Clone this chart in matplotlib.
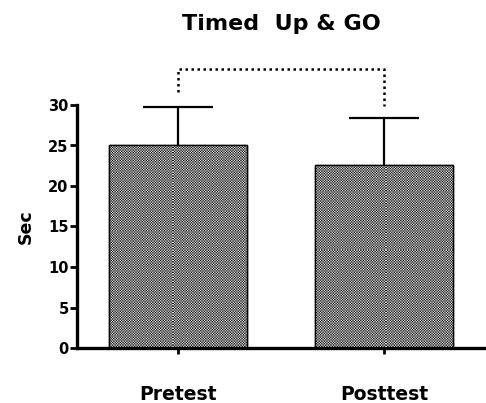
import numpy as np
import matplotlib
matplotlib.use("Agg")
import matplotlib.pyplot as plt
from matplotlib.transforms import IdentityTransform

categories = ["Pretest", "Posttest"]
means = [25.0, 22.6]
sd = [4.7, 5.8]
bracket_y = [31.6, 34.4, 34.4, 29.9]
yticks = [0, 5, 10, 15, 20, 25, 30]
title = "Timed  Up & GO"
ylabel = "Sec"

plt.rcParams["font.family"] = ["DejaVu Sans"]
plt.rcParams["font.weight"] = "bold"

W, H, DPI = 486, 403, 100
fig = plt.figure(figsize=(W / DPI, H / DPI), dpi=DPI)
ax = fig.add_axes([77 / W, 1 - 348 / H, (W - 77) / W, 243 / H])

x = np.arange(len(categories))
bars = ax.bar(x, means, width=0.67, facecolor="white", edgecolor="black",
              linewidth=1.0, zorder=2)

# checker texture (supersampled), pixel aligned
S = 8
yy, xx = np.mgrid[0:H * S, 0:W * S]
cell = 1.3 * S
hi = (((xx // cell) + (yy // cell)) % 2).astype(float)
chk = hi.reshape(H, S, W, S).mean(axis=(1, 3))
chk = 0.05 + 0.85 * chk
for b in bars:
    im = ax.imshow(chk, cmap="gray", vmin=0, vmax=1, origin="lower",
                   extent=[0, W, 0, H], transform=IdentityTransform(),
                   interpolation="nearest", aspect="auto", zorder=2.2)
    im.set_clip_path(b)
for b in bars:
    r = plt.Rectangle(b.get_xy(), b.get_width(), b.get_height(),
                      fill=False, edgecolor="black", linewidth=1.0, zorder=2.6)
    ax.add_patch(r)

tops = np.array(means) + np.array(sd)
ax.vlines(x, means, tops, color="black", lw=1.6, zorder=3)
ax.hlines(tops, x - 0.172, x + 0.172, color="black", lw=1.6, zorder=3)

ax.plot([x[0], x[0], x[1], x[1]], bracket_y, color="black", lw=1.8,
        linestyle=(0, (1, 1.4)), clip_on=False, zorder=3)

ax.set_xlim(-0.49, 1.495)
ax.set_ylim(0, 30)
ax.set_yticks(yticks)
ax.set_xticks(x)
ax.set_xticklabels(categories, fontsize=13.5, fontweight="bold")
ax.tick_params(axis="x", length=4, width=2, pad=23)
ax.tick_params(axis="y", length=5, width=2, labelsize=10.5, pad=1)
for t in ax.get_yticklabels():
    t.set_fontweight("bold")
for s in ["top", "right"]:
    ax.spines[s].set_visible(False)
for s in ["left", "bottom"]:
    ax.spines[s].set_linewidth(2.4)
ax.set_ylabel(ylabel, fontsize=12.5, fontweight="bold", labelpad=10)
fig.text(281 / W, 1 - 24 / H, title, ha="center", va="center",
         fontsize=16, fontweight="bold")

fig.savefig("out.png", dpi=DPI)
